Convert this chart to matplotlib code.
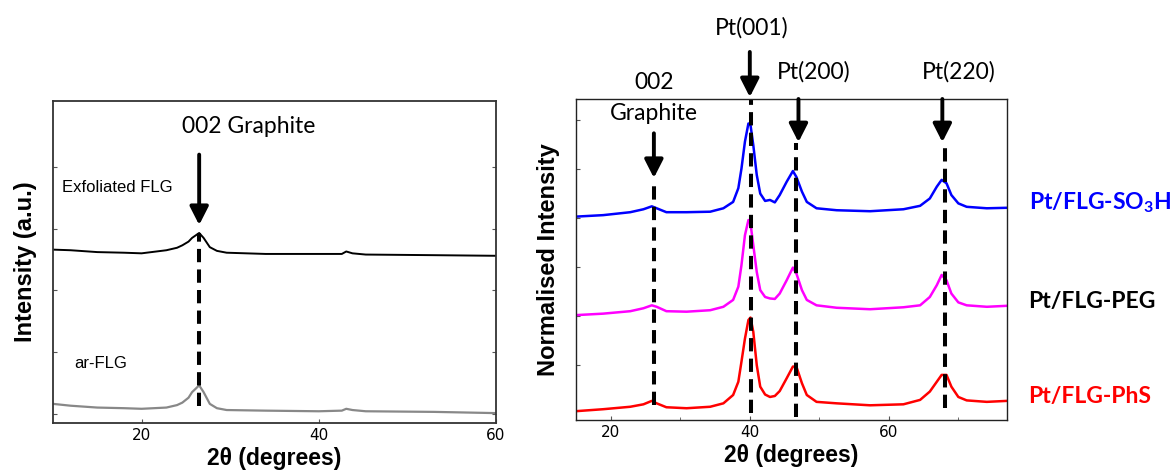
import matplotlib
matplotlib.use("Agg")
import matplotlib.pyplot as plt
from matplotlib.ticker import MultipleLocator

# ---- left panel: FLG before / after exfoliation ----
x_left = [10, 12, 15, 18, 20, 22.8, 24.0, 24.6, 25.3, 25.7, 26.5, 27.0, 27.7, 28.5, 29.6, 34, 40, 42.6, 43.1, 43.8, 45.3, 53, 60]
y_exf = [2.66, 2.65, 2.62, 2.61, 2.60, 2.65, 2.69, 2.73, 2.79, 2.85, 2.93, 2.85, 2.70, 2.64, 2.61, 2.59, 2.59, 2.59, 2.63, 2.60, 2.58, 2.57, 2.56]
y_ar = [0.16, 0.13, 0.10, 0.09, 0.08, 0.10, 0.14, 0.18, 0.26, 0.35, 0.46, 0.35, 0.16, 0.09, 0.06, 0.05, 0.04, 0.05, 0.08, 0.06, 0.04, 0.03, 0.01]

# ---- right panel: Pt decorated FLG ----
x_right = [15.0, 18.9, 22.8, 24.7, 25.9, 26.6, 28.0, 30.9, 34.3, 36.2, 37.6, 38.35, 38.8, 39.3,
           39.8, 40.1, 40.5, 41.0, 41.5, 42.2, 42.9, 43.6, 44.3, 45.3, 46.2, 46.7, 47.5, 48.2,
           49.6, 52.5, 57.3, 62.1, 64.5, 65.9, 66.9, 67.6, 68.3, 69.0, 70.0, 71.2, 74.1, 77.0]
y_so3h = [3.03, 3.06, 3.12, 3.18, 3.24, 3.20, 3.12, 3.12, 3.13, 3.20, 3.33, 3.61, 4.01, 4.56,
          4.93, 4.90, 4.49, 3.88, 3.50, 3.35, 3.37, 3.32, 3.47, 3.74, 3.96, 3.84, 3.54, 3.33,
          3.20, 3.16, 3.14, 3.18, 3.25, 3.40, 3.64, 3.78, 3.71, 3.47, 3.30, 3.23, 3.20, 3.21]
y_peg = [1.02, 1.05, 1.10, 1.16, 1.22, 1.19, 1.10, 1.09, 1.12, 1.19, 1.33, 1.60, 2.04, 2.65,
         2.96, 2.89, 2.45, 1.90, 1.53, 1.39, 1.36, 1.35, 1.46, 1.73, 1.99, 1.87, 1.53, 1.33,
         1.22, 1.17, 1.14, 1.18, 1.22, 1.39, 1.63, 1.84, 1.73, 1.46, 1.28, 1.22, 1.19, 1.21]
y_phs = [-0.94, -0.90, -0.85, -0.80, -0.73, -0.78, -0.86, -0.88, -0.85, -0.78, -0.61, -0.34, 0.07, 0.54,
         0.92, 0.97, 0.68, 0.00, -0.44, -0.60, -0.65, -0.63, -0.53, -0.27, -0.03, -0.03, -0.37, -0.61,
         -0.75, -0.78, -0.82, -0.80, -0.71, -0.54, -0.34, -0.20, -0.20, -0.44, -0.65, -0.72, -0.75, -0.73]

peak_labels = ['Pt(001)', 'Pt(200)', 'Pt(220)']
peak_pos = [40.2, 46.7, 68.1]
sample_names = ['Pt/FLG-SO$_\\mathregular{3}$H', 'Pt/FLG-PEG', 'Pt/FLG-PhS']
sample_colors = ['#0000ff', 'black', '#ff0000']

ARIAL = 'Liberation Sans'
CALIBRI = 'Lato'

fig = plt.figure(figsize=(11.72, 4.75), dpi=100)
ax1 = fig.add_axes([0.0452, 0.1095, 0.378, 0.678])
ax2 = fig.add_axes([0.4915, 0.1158, 0.3677, 0.6758])

dash = (0, (3.3, 1.8))
arrow_kw = dict(arrowstyle='-|>,head_length=0.55,head_width=0.28', lw=2.8, color='k',
                mutation_scale=20, shrinkA=0, shrinkB=0)

# left
ax1.plot(x_left, y_exf, color='black', lw=1.4)
ax1.plot(x_left, y_ar, color='#888888', lw=1.6)
ax1.plot([26.5, 26.5], [0.13, 2.93], color='k', lw=2.9, ls=dash)
ax1.annotate('', xy=(26.5, 3.06), xytext=(26.5, 4.20), arrowprops=arrow_kw)
ax1.text(32.1, 4.65, '002 Graphite', family=CALIBRI, fontsize=16.5, ha='center', va='center')
ax1.text(11.0, 3.66, 'Exfoliated FLG', family=ARIAL, fontsize=12, ha='left', va='center')
ax1.text(12.4, 0.81, 'ar-FLG', family=ARIAL, fontsize=12, ha='left', va='center')
ax1.set_xlim(10, 60)
ax1.set_ylim(-0.15, 5.07)
ax1.set_xticks([20, 40, 60])
ax1.set_yticks([0, 1, 2, 3, 4])
ax1.set_yticklabels([])
ax1.tick_params(direction='in', length=3, color='#555555', right=True, labelsize=11)
ax1.set_xlabel('2θ (degrees)', family=ARIAL, fontweight='bold', fontsize=16.5, labelpad=3)
ax1.set_ylabel('Intensity (a.u.)', family=ARIAL, fontweight='bold', fontsize=17, labelpad=8)
for s in ax1.spines.values():
    s.set_color('#333333')
    s.set_linewidth(1.3)

# right
for y, c in zip([y_so3h, y_peg, y_phs], ['#0000ff', '#ff00ff', '#ff0000']):
    ax2.plot(x_right, y, color=c, lw=1.8)

ax2.plot([26.2, 26.2], [-0.82, 3.78], color='k', lw=2.9, ls=dash)
ax2.annotate('', xy=(26.2, 3.82), xytext=(26.2, 4.73), arrowprops=arrow_kw)
ax2.text(26.2, 5.76, '002', family=CALIBRI, fontsize=16.5, ha='center', va='center')
ax2.text(26.2, 5.14, 'Graphite', family=CALIBRI, fontsize=16.5, ha='center', va='center')

arrow_x = [40.0, 47.0, 67.7]
dash_bottoms = [-0.98, -1.06, -0.88]
dash_tops = [5.41, 4.53, 4.53]
arrow_from = [6.39, 5.43, 5.43]
arrow_to = [5.47, 4.55, 4.55]
label_x = [40.2, 49.2, 70.1]
label_y = [6.88, 5.98, 5.98]
for i, lab in enumerate(peak_labels):
    ax2.plot([peak_pos[i]] * 2, [dash_bottoms[i], dash_tops[i]], color='k', lw=2.9, ls=dash, clip_on=False)
    ax2.annotate('', xy=(arrow_x[i], arrow_to[i]), xytext=(arrow_x[i], arrow_from[i]),
                 arrowprops=arrow_kw, annotation_clip=False)
    ax2.text(label_x[i], label_y[i], lab, family=CALIBRI, fontsize=16.5, ha='center', va='center')

for name, c, yy in zip(sample_names, sample_colors, [3.31, 1.29, -0.65]):
    ax2.text(80.1, yy, name, family=CALIBRI, fontweight='bold', fontsize=16.5, color=c,
             ha='left', va='center', clip_on=False)

ax2.set_xlim(15, 77)
ax2.set_ylim(-1.12, 5.43)
ax2.set_xticks([20, 40, 60])
ax2.xaxis.set_minor_locator(MultipleLocator(10))
ax2.set_yticks([0, 1, 2, 3, 4, 5])
ax2.set_yticklabels([])
ax2.tick_params(direction='in', length=3, color='#555555', labelsize=11)
ax2.tick_params(which='minor', direction='in', length=2, color='#555555')
ax2.set_xlabel('2θ (degrees)', family=ARIAL, fontweight='bold', fontsize=16.5, labelpad=3)
ax2.set_ylabel('Normalised Intensity', family=ARIAL, fontweight='bold', fontsize=17, labelpad=8)
for s in ax2.spines.values():
    s.set_color('#222222')
    s.set_linewidth(1.0)

fig.savefig('out.png', dpi=100)
